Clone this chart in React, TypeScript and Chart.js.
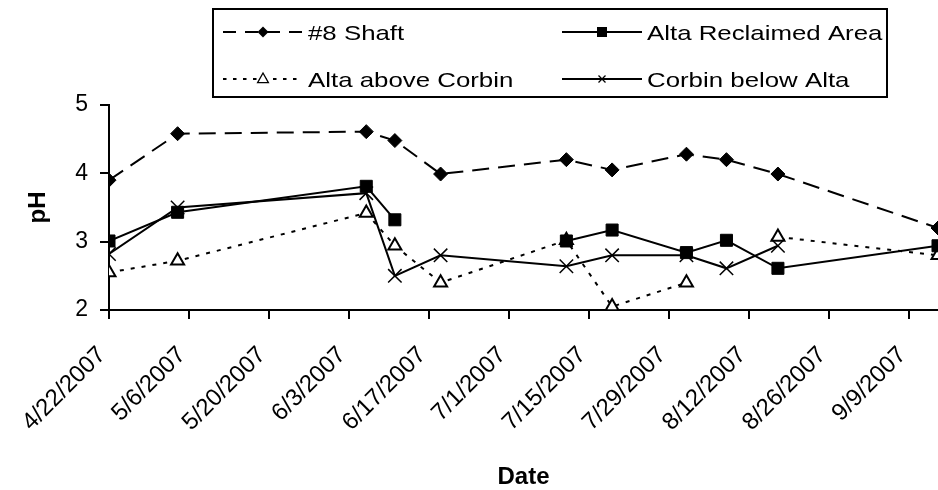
import React, { useEffect, useRef } from 'react';
import { Chart, registerables } from 'chart.js';

Chart.register(...registerables);

// Sampling dates (M/D/YYYY)
const sampleDates = [
  '4/22/2007', '5/4/2007', '6/6/2007', '6/11/2007', '6/19/2007', '7/11/2007',
  '7/19/2007', '8/1/2007', '8/8/2007', '8/17/2007', '9/14/2007',
];

// pH readings per site (null = not sampled)
const shaft8 = [3.9, 4.58, 4.61, 4.48, 3.99, 4.2, 4.05, 4.28, 4.2, 3.99, 3.2];
const altaReclaimed = [3.01, 3.43, 3.81, 3.32, null, 3.01, 3.17, 2.84, 3.02, 2.61, 2.94];
const altaAboveCorbin = [2.55, 2.72, 3.42, 2.94, 2.4, 3.02, 2.05, 2.4, null, 3.07, 2.8];
const corbinBelowAlta = [2.82, 3.5, 3.71, 2.5, 2.8, 2.64, 2.8, 2.8, 2.61, 2.94, null];

const seriesNames = ['#8 Shaft', 'Alta Reclaimed Area', 'Alta above Corbin', 'Corbin below Alta'];

// Axis range
const axisStart = '4/22/2007';
const axisEnd = '9/14/2007';
const tickStepDays = 14;
const phMin = 2;
const phMax = 5;
const phStep = 1;

const FONT = '"Liberation Sans", Arial, Helvetica, sans-serif';
const DAY_MS = 86400000;

function parseDate(s: string): number {
  const [m, d, y] = s.split('/').map(Number);
  return Date.UTC(y, m - 1, d);
}
const originMs = parseDate(axisStart);
const dayOf = (s: string) => Math.round((parseDate(s) - originMs) / DAY_MS);
function dateLabel(day: number): string {
  const dt = new Date(originMs + day * DAY_MS);
  return `${dt.getUTCMonth() + 1}/${dt.getUTCDate()}/${dt.getUTCFullYear()}`;
}
const toPoints = (vals: (number | null)[]) =>
  sampleDates.map((s, i) => ({ x: dayOf(s), y: vals[i] }));

function drawMarker(ctx: CanvasRenderingContext2D, style: string, x: number, y: number, r: number) {
  ctx.save();
  ctx.setLineDash([]);
  ctx.strokeStyle = '#000';
  ctx.fillStyle = '#000';
  ctx.beginPath();
  if (style === 'rectRot') {
    ctx.moveTo(x, y - r);
    ctx.lineTo(x + r, y);
    ctx.lineTo(x, y + r);
    ctx.lineTo(x - r, y);
    ctx.closePath();
    ctx.fill();
  } else if (style === 'rect') {
    ctx.rect(x - r, y - r, 2 * r, 2 * r);
    ctx.fill();
  } else if (style === 'triangle') {
    ctx.moveTo(x, y - r);
    ctx.lineTo(x + r * 0.9, y + r * 0.6);
    ctx.lineTo(x - r * 0.9, y + r * 0.6);
    ctx.closePath();
    ctx.fillStyle = '#fff';
    ctx.fill();
    ctx.lineWidth = 1.3;
    ctx.stroke();
  } else if (style === 'crossRot') {
    ctx.lineWidth = 1.3;
    ctx.moveTo(x - r, y - r);
    ctx.lineTo(x + r, y + r);
    ctx.moveTo(x - r, y + r);
    ctx.lineTo(x + r, y - r);
    ctx.stroke();
  }
  ctx.restore();
}

const markerSizes: Record<string, number> = { rectRot: 5.5, rect: 5, triangle: 6, crossRot: 3.5 };

// Boxed two-column legend with line samples
const boxLegend = {
  id: 'boxLegend',
  afterDraw(chart: any) {
    const ctx: CanvasRenderingContext2D = chart.ctx;
    const box = { left: 213, top: 9, right: 887, bottom: 97 };
    const cols = [223, 562];
    const rows = [32, 79];
    const sampleLen = 80;
    ctx.save();
    ctx.strokeStyle = '#000';
    ctx.lineWidth = 2;
    ctx.strokeRect(box.left, box.top, box.right - box.left, box.bottom - box.top);
    chart.data.datasets.forEach((ds: any, i: number) => {
      const x0 = cols[i % 2];
      const y = rows[Math.floor(i / 2)];
      ctx.save();
      ctx.lineWidth = 2;
      ctx.strokeStyle = '#000';
      ctx.setLineDash(ds.legendDash || []);
      ctx.beginPath();
      ctx.moveTo(x0, y);
      ctx.lineTo(x0 + sampleLen, y);
      ctx.stroke();
      ctx.restore();
      drawMarker(ctx, ds.pointStyle, x0 + sampleLen / 2, y, markerSizes[ds.pointStyle] || 4);
      ctx.save();
      ctx.fillStyle = '#000';
      ctx.font = `21px ${FONT}`;
      ctx.textAlign = 'left';
      ctx.textBaseline = 'alphabetic';
      ctx.translate(x0 + sampleLen + 5, y + 8);
      ctx.scale(1.23, 1);
      ctx.fillText(ds.label, 0, 0);
      ctx.restore();
    });
    ctx.restore();
  },
};

export default function App() {
  const canvasRef = useRef<HTMLCanvasElement | null>(null);

  useEffect(() => {
    if (!canvasRef.current) return;
    const axisGrid = {
      display: true,
      drawOnChartArea: false,
      drawTicks: true,
      tickLength: 9,
      color: '#000',
      lineWidth: 2,
    };
    const axisBorder = { display: true, color: '#000', width: 2 };

    const chart = new Chart(canvasRef.current, {
      type: 'line',
      data: {
        datasets: [
          {
            label: seriesNames[0],
            data: toPoints(shaft8),
            borderColor: '#000',
            borderWidth: 2,
            borderDash: [17, 9],
            legendDash: [13, 9],
            pointStyle: 'rectRot',
            pointRadius: 7,
            pointBackgroundColor: '#000',
            pointBorderColor: '#000',
            pointBorderWidth: 1,
          },
          {
            label: seriesNames[1],
            data: toPoints(altaReclaimed),
            borderColor: '#000',
            borderWidth: 2,
            pointStyle: 'rect',
            pointRadius: 8.5,
            pointBackgroundColor: '#000',
            pointBorderColor: '#000',
            pointBorderWidth: 1,
          },
          {
            label: seriesNames[2],
            data: toPoints(altaAboveCorbin),
            borderColor: '#000',
            borderWidth: 2,
            borderDash: [4, 7],
            legendDash: [3.5, 6.5],
            pointStyle: 'triangle',
            pointRadius: 7.5,
            pointBackgroundColor: '#fff',
            pointBorderColor: '#000',
            pointBorderWidth: 2,
          },
          {
            label: seriesNames[3],
            data: toPoints(corbinBelowAlta),
            borderColor: '#000',
            borderWidth: 2,
            pointStyle: 'crossRot',
            pointRadius: 9.5,
            pointBackgroundColor: '#000',
            pointBorderColor: '#000',
            pointBorderWidth: 1.5,
          },
        ] as any,
      },
      options: {
        responsive: false,
        animation: false,
        events: [],
        spanGaps: false,
        layout: { autoPadding: false, padding: { top: 105, left: 0, right: 0, bottom: 0 } },
        elements: { line: { tension: 0 } },
        plugins: {
          legend: { display: false },
          tooltip: { enabled: false },
        },
        scales: {
          x: {
            type: 'linear',
            min: 0,
            max: dayOf(axisEnd),
            ticks: {
              stepSize: tickStepDays,
              includeBounds: false,
              autoSkip: false,
              minRotation: 45,
              maxRotation: 45,
              padding: 22,
              labelOffset: -7,
              color: '#000',
              font: { family: FONT, size: 24 },
              callback: (v: any) => dateLabel(Number(v)),
            },
            grid: axisGrid,
            border: axisBorder,
            title: {
              display: true,
              text: 'Date',
              color: '#000',
              font: { family: FONT, size: 24, weight: 'bold' },
              padding: { top: 0, bottom: -2 },
            },
            afterFit: (s: any) => {
              s.height = 180;
              s.paddingLeft = 0;
              s.paddingRight = 0;
            },
          },
          y: {
            min: phMin,
            max: phMax,
            ticks: {
              stepSize: phStep,
              padding: 12,
              color: '#000',
              font: { family: FONT, size: 23 },
            },
            grid: axisGrid,
            border: axisBorder,
            title: {
              display: true,
              text: 'pH',
              color: '#000',
              font: { family: FONT, size: 24, weight: 'bold' },
              padding: { top: 24, bottom: 0 },
            },
            afterFit: (s: any) => {
              s.width = 109;
              s.paddingTop = 0;
              s.paddingBottom = 0;
            },
          },
        },
      } as any,
      plugins: [boxLegend],
    });
    return () => chart.destroy();
  }, []);

  return (
    <div style={{ position: 'absolute', left: 0, top: 0, width: 938, height: 490, background: '#fff' }}>
      <canvas ref={canvasRef} width={938} height={490} />
    </div>
  );
}
